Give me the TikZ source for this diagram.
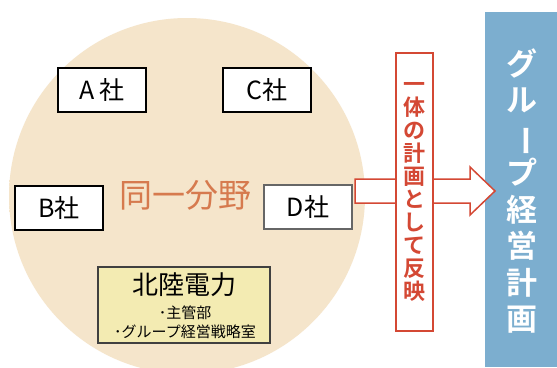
\documentclass[tikz,border=0pt]{standalone}
\usepackage{fontspec}
\setmainfont{Noto Sans CJK JP}
\newfontfamily\jpbold{Noto Sans CJK JP Bold}
\definecolor{circin}{RGB}{245,229,203}
\definecolor{circout}{RGB}{236,196,154}
\definecolor{fieldc}{RGB}{214,122,78}
\definecolor{hkfill}{RGB}{243,235,178}
\definecolor{redc}{RGB}{212,72,52}
\definecolor{bluec}{RGB}{124,174,207}
\pgfdeclareradialshading{circshade}{\pgfpoint{0bp}{0bp}}{color(0bp)=(circin); color(28bp)=(circin); color(45bp)=(circout); color(50bp)=(circout)}
\tikzset{
  cobox/.style={draw=black, line width=1.4pt, fill=white, minimum width=88pt, minimum height=44pt, inner sep=0pt, font=\fontsize{25}{28}\selectfont},
}
\begin{document}
\begin{tikzpicture}[x=1pt,y=-1pt]
\useasboundingbox (0,0) rectangle (557,367);
\fill[white] (0,0) rectangle (557,367);
\begin{scope}
\clip (0,0) rectangle (557,367);
\shade[shading=circshade] (187,196) circle (178);
\end{scope}
% blue panel
\node[fill=bluec, minimum width=72pt, minimum height=355pt, inner sep=0pt, anchor=north west] (gp) at (485,12) {};
\node[text=white, align=center, font=\jpbold\fontsize{31}{36.5}\selectfont] (gptext) at (522,191) {グ\\ル\\\rotatebox[origin=c]{-90}{ー}\\プ\\経\\営\\計\\画};
% company boxes
\node[cobox] (A) at (102,90) {A\,社};
\node[cobox] (C) at (267,90) {C社};
\node[cobox] (B) at (59,208) {B社};
\node[cobox, draw=black!60] (D) at (308,207) {D社};
\node[text=fieldc, font=\fontsize{33}{36}\selectfont] (field) at (185,195) {同一分野};
% hokuriku box
\node[draw=black!75, line width=1.4pt, fill=hkfill, minimum width=172pt, minimum height=76pt, inner sep=0pt] (hk) at (184,305) {};
\node[font=\fontsize{26}{28}\selectfont] (hkt) at (184,285) {北陸電力};
\node[font=\fontsize{15}{19}\selectfont, align=center] (hks) at (185,322) {･主管部\\･グループ経営戦略室};
% arrow
\coordinate (s1) at (355,179);
\coordinate (s2) at (355,203);
\draw[redc, line width=1.5pt, fill=white, line join=miter]
  (s1) -- (470,179) -- (470,167) -- (495,191) -- (470,215) -- (470,203) -- (s2) -- cycle;
% vertical label
\node[draw=redc, line width=1.5pt, fill=white, minimum width=37pt, minimum height=278pt, inner sep=0pt, anchor=north west] (lab) at (395,52) {};
\node[text=redc, align=center, font=\jpbold\fontsize{22}{23}\selectfont] (labt) at (lab.center) {一\\体\\の\\計\\画\\と\\し\\て\\反\\映};
\end{tikzpicture}
\end{document}
